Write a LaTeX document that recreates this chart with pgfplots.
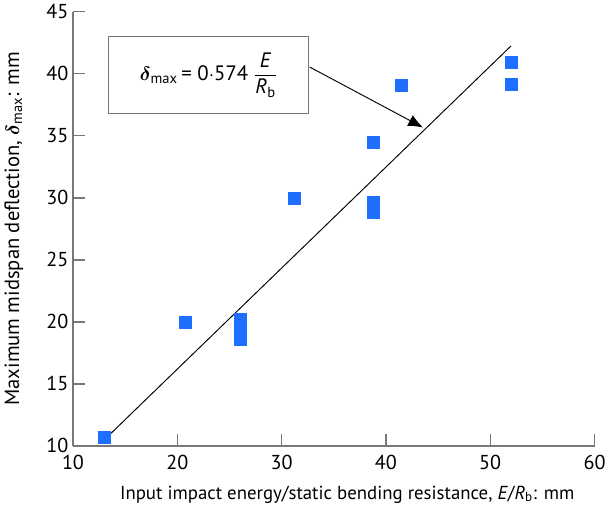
\documentclass[border=0pt]{standalone}
\usepackage{amsmath}
\usepackage{fontspec}
\setmainfont{PT Sans}
\usepackage{pgfplots}
\pgfplotsset{compat=1.18}
\usetikzlibrary{arrows.meta}
\definecolor{ptblue}{RGB}{30,110,255}
\definecolor{axgray}{RGB}{120,120,120}
\begin{document}
\begin{tikzpicture}
\begin{axis}[
  scale only axis,
  width=388pt, height=323pt,
  xmin=10, xmax=60, ymin=10, ymax=45,
  xtick={10,20,...,60}, ytick={10,15,...,45},
  axis x line*=bottom, axis y line*=left,
  axis line style={axgray, line width=1.3pt},
  tick style={axgray, line width=1pt},
  tick align=inside,
  major tick length=9pt,
  /pgf/number format/assume math mode=true,
  tick label style={font=\fontsize{15}{18}\selectfont, text=black},
  xticklabel style={yshift=-3.5pt},
  xlabel={Input impact energy/static bending resistance, \textit{E}/\textit{R}\textsubscript{b}: mm},
  ylabel={Maximum midspan deflection, $\boldsymbol{\delta}$\textsubscript{max}: mm},
  xlabel style={font=\fontsize{14}{17}\selectfont, at={(axis description cs:0.5,0)}, anchor=center, yshift=-36pt, xshift=10pt},
  ylabel style={font=\fontsize{15.3}{18}\selectfont, at={(axis description cs:0,0.5)}, anchor=center, yshift=44pt},
  clip=false,
]
\addplot[only marks, mark=square*, mark size=4.5pt, mark options={fill=ptblue, draw=ptblue}] coordinates {
  (13.0,10.7) (20.8,20.0) (26.0,20.2) (26.0,19.6) (26.0,19.0) (26.0,18.6)
  (31.2,30.0) (38.8,34.45) (38.8,29.6) (38.8,29.1) (38.8,28.8)
  (41.5,39.05) (52.0,40.95) (52.0,39.15)
};
\addplot[black, line width=0.7pt] coordinates {(13.5,10.9) (52.0,42.25)};
\draw[axgray, line width=0.9pt, fill=white] (axis cs:13.4,36.8) rectangle (axis cs:32.6,43.0);
\node[font=\fontsize{15.5}{18}\selectfont] at (axis cs:23.0,39.9) {$\boldsymbol{\delta}$\textsubscript{max}\,= 0$\cdot$574 $\dfrac{\text{\textit{E}}}{\text{\textit{R}\textsubscript{b}}}$};
\draw[black, line width=0.7pt, -{Latex[length=11pt,width=9pt]}] (axis cs:32.7,40.54) -- (axis cs:43.56,35.67);
\end{axis}
\end{tikzpicture}
\end{document}
